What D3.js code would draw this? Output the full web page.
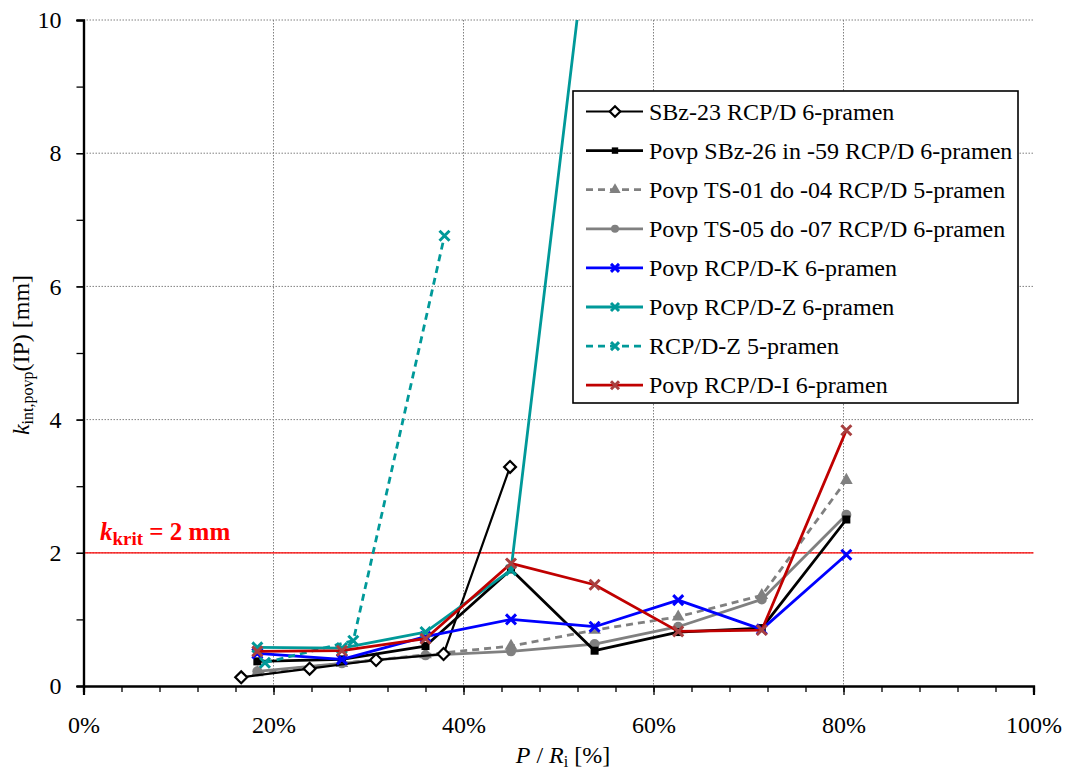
<!DOCTYPE html>
<html>
<head>
<meta charset="utf-8">
<script src="https://cdn.jsdelivr.net/npm/d3@7"></script>
<style>
  html, body { margin: 0; padding: 0; background: #fff; }
  svg { display: block; font-family: "Liberation Serif", "Times New Roman", serif; }
</style>
</head>
<body>
<svg id="chart" width="1067" height="773"></svg>
<script>
// Load level P/Ri [%] against mean crack width k_int,povp(IP) [mm]
const xSBz23 = [16.6, 23.8, 30.8, 37.9, 44.9];
const ySBz23 = [0.13, 0.26, 0.39, 0.48, 3.29];

const xCommon = [18.3, 27.2, 36.0, 45.0, 53.8, 62.6, 71.4, 80.3];
const ySBz26 = [0.37, 0.40, 0.60, 1.75, 0.53, 0.81, 0.87, 2.50];
const yTS01 = [0.20, 0.34, 0.47, 0.60, 0.84, 1.04, 1.36, 3.09];
const yTS05 = [0.22, 0.34, 0.46, 0.52, 0.63, 0.89, 1.30, 2.57];
const yRCPK = [0.49, 0.40, 0.74, 1.00, 0.89, 1.29, 0.85, 1.97];
const yRCPI = [0.52, 0.53, 0.71, 1.84, 1.52, 0.82, 0.84, 3.84];

const xRCPZ6 = [18.3, 27.2, 36.0, 45.0, 53.8];
const yRCPZ6 = [0.58, 0.57, 0.81, 1.74, 12.2];

const xRCPZ5 = [19.1, 28.4, 38.0];
const yRCPZ5 = [0.35, 0.68, 6.76];

const kKrit = 2;
const xTicks = [0, 20, 40, 60, 80, 100];
const yTicks = [0, 2, 4, 6, 8, 10];

const zip = (xs, ys) => xs.map((x, i) => ({ x, y: ys[i] }));

const series = [
  { name: "SBz-23 RCP/D 6-pramen", data: zip(xSBz23, ySBz23), color: "#000", width: 2.2, dash: null, marker: "diamond", mcolor: "#000" },
  { name: "Povp SBz-26 in -59 RCP/D 6-pramen", data: zip(xCommon, ySBz26), color: "#000", width: 2.8, dash: null, marker: "square", mcolor: "#000" },
  { name: "Povp TS-01 do -04 RCP/D 5-pramen", data: zip(xCommon, yTS01), color: "#808080", width: 2.8, dash: "7,5", marker: "triangle", mcolor: "#808080" },
  { name: "Povp TS-05 do -07 RCP/D 6-pramen", data: zip(xCommon, yTS05), color: "#808080", width: 2.8, dash: null, marker: "circle", mcolor: "#808080" },
  { name: "Povp RCP/D-K 6-pramen", data: zip(xCommon, yRCPK), color: "#0000ff", width: 2.8, dash: null, marker: "x", mcolor: "#0000ff" },
  { name: "Povp RCP/D-Z 6-pramen", data: zip(xRCPZ6, yRCPZ6), color: "#009999", width: 2.8, dash: null, marker: "x", mcolor: "#009999" },
  { name: "RCP/D-Z 5-pramen", data: zip(xRCPZ5, yRCPZ5), color: "#009999", width: 2.8, dash: "7,5", marker: "x", mcolor: "#009999" },
  { name: "Povp RCP/D-I 6-pramen", data: zip(xCommon, yRCPI), color: "#c00000", width: 2.8, dash: null, marker: "x", mcolor: "#a84040" }
];

const plotL = 83.5, plotR = 1033.5, plotT = 20, plotB = 686;
const svg = d3.select("#chart");
const x = d3.scaleLinear().domain([0, 100]).range([plotL, plotR]);
const y = d3.scaleLinear().domain([0, 10]).range([plotB, plotT]);

svg.append("defs").append("clipPath").attr("id", "plotClip")
  .append("rect").attr("x", plotL).attr("y", plotT).attr("width", plotR - plotL).attr("height", plotB - plotT);

// dotted gridlines
const grid = svg.append("g");
grid.selectAll(".vg").data(xTicks.filter(d => d > 0 && d < 100)).join("line")
  .attr("x1", d => x(d)).attr("x2", d => x(d)).attr("y1", plotT).attr("y2", plotB)
  .attr("stroke", "#808080").attr("stroke-width", 1).attr("stroke-dasharray", "1.5,1.5");
grid.selectAll(".hg").data(yTicks.filter(d => d > 0)).join("line")
  .attr("x1", plotL).attr("x2", plotR).attr("y1", d => y(d)).attr("y2", d => y(d))
  .attr("stroke", "#808080").attr("stroke-width", 1).attr("stroke-dasharray", "1.5,1.5");

// critical crack width line
svg.append("line").attr("x1", plotL).attr("x2", plotR).attr("y1", y(kKrit)).attr("y2", y(kKrit))
  .attr("stroke", "#ff0000").attr("stroke-width", 1.2);

// axes
const xAxisMinor = d3.axisBottom(x).tickValues(d3.range(0, 101, 4)).tickSize(6).tickFormat("");
const xAxisMajor = d3.axisBottom(x).tickValues(xTicks).tickSize(9).tickFormat(d => d + "%").tickPadding(21);
const yAxisMinor = d3.axisLeft(y).tickValues(d3.range(0, 11, 1)).tickSize(7).tickFormat("");
const yAxisMajor = d3.axisLeft(y).tickValues(yTicks).tickSize(7).tickFormat(d3.format("d")).tickPadding(15);

function styleAxis(g) {
  g.select(".domain").attr("stroke", "#000").attr("stroke-width", 2.2);
  g.selectAll(".tick line").attr("stroke", "#000").attr("stroke-width", 1.3);
  g.selectAll(".tick text").attr("font-family", "Liberation Serif, Times New Roman, serif")
    .attr("font-size", 24).attr("fill", "#000");
}
svg.append("g").attr("transform", `translate(0,${plotB})`).call(xAxisMinor).call(styleAxis);
svg.append("g").attr("transform", `translate(0,${plotB})`).call(xAxisMajor).call(styleAxis);
svg.append("g").attr("transform", `translate(${plotL},0)`).call(yAxisMinor).call(styleAxis);
svg.append("g").attr("transform", `translate(${plotL},0)`).call(yAxisMajor).call(styleAxis);

// marker drawing
function drawMarker(g, type, color, size) {
  const s = size || 1;
  if (type === "diamond") {
    g.append("path").attr("d", d3.symbol(d3.symbolDiamond2, 90 * s)())
      .attr("fill", "#fff").attr("stroke", color).attr("stroke-width", 2.2);
  } else if (type === "square") {
    g.append("rect").attr("x", -4 * s).attr("y", -4 * s).attr("width", 8 * s).attr("height", 8 * s).attr("fill", color);
  } else if (type === "triangle") {
    g.append("path").attr("d", d3.symbol(d3.symbolTriangle, 70 * s)()).attr("fill", color);
  } else if (type === "circle") {
    g.append("circle").attr("r", 5 * s).attr("fill", color);
  } else if (type === "x") {
    const r = 5 * s;
    g.append("path").attr("d", `M${-r},${-r}L${r},${r}M${-r},${r}L${r},${-r}`)
      .attr("stroke", color).attr("stroke-width", 3).attr("fill", "none");
  }
}

// series
const line = d3.line().x(d => x(d.x)).y(d => y(d.y));
const plot = svg.append("g").attr("clip-path", "url(#plotClip)");
const drawOrder = [3, 2, 1, 0, 4, 5, 6, 7];
drawOrder.forEach(i => {
  const s = series[i];
  const g = plot.append("g");
  g.append("path").datum(s.data).attr("d", line)
    .attr("fill", "none").attr("stroke", s.color).attr("stroke-width", s.width)
    .attr("stroke-dasharray", s.dash).attr("stroke-linejoin", "round");
  s.data.filter(d => d.y <= 10).forEach(d => {
    const m = g.append("g").attr("transform", `translate(${x(d.x)},${y(d.y)})`);
    drawMarker(m, s.marker, s.mcolor);
  });
});

// critical value label
const kl = svg.append("text").attr("x", 100).attr("y", 540).attr("fill", "#ff0000")
  .attr("font-size", 25).attr("font-weight", "bold");
kl.append("tspan").attr("font-style", "italic").text("k");
kl.append("tspan").attr("font-size", 19).attr("dy", 5).text("krit");
kl.append("tspan").attr("dy", -5).text(" = 2 mm");

// axis titles
const xt = svg.append("text").attr("x", 563).attr("y", 763).attr("text-anchor", "middle").attr("font-size", 24);
xt.append("tspan").attr("font-style", "italic").text("P");
xt.append("tspan").text(" / ");
xt.append("tspan").attr("font-style", "italic").text("R");
xt.append("tspan").attr("font-size", 16).attr("dy", 4).text("i");
xt.append("tspan").attr("dy", -4).text(" [%]");

const yt = svg.append("text").attr("transform", `translate(29,355) rotate(-90)`)
  .attr("text-anchor", "middle").attr("font-size", 24);
yt.append("tspan").attr("font-style", "italic").text("k");
yt.append("tspan").attr("font-size", 16).attr("dy", 4).text("int,povp");
yt.append("tspan").attr("dy", -4).text("(IP) [mm]");

// legend
const lg = svg.append("g");
lg.append("rect").attr("x", 573).attr("y", 91).attr("width", 445).attr("height", 312)
  .attr("fill", "#fff").attr("stroke", "#000").attr("stroke-width", 1.6);
series.forEach((s, i) => {
  const yy = 111.5 + i * 39.1;
  lg.append("line").attr("x1", 586).attr("x2", 643).attr("y1", yy).attr("y2", yy)
    .attr("stroke", s.color).attr("stroke-width", s.width).attr("stroke-dasharray", s.dash);
  const m = lg.append("g").attr("transform", `translate(615,${yy})`);
  drawMarker(m, s.marker, s.mcolor, 0.8);
  lg.append("text").attr("x", 649).attr("y", yy + 8).attr("font-size", 24).text(s.name);
});
</script>
</body>
</html>
